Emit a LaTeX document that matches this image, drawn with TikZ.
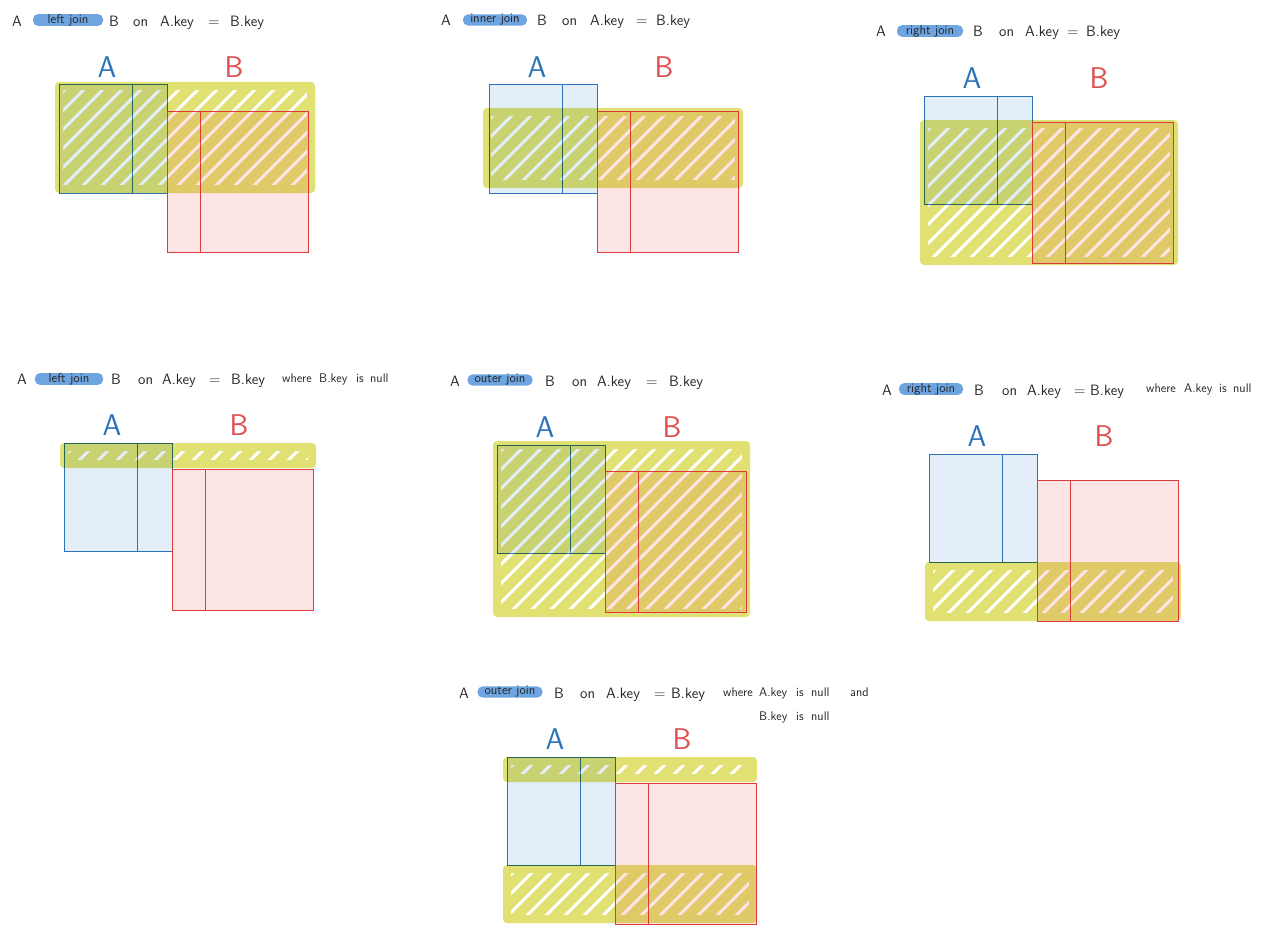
\documentclass[tikz,border=0pt]{standalone}
\usepackage{fontspec}
\definecolor{ablue}{RGB}{45,115,185}
\definecolor{afill}{RGB}{228,238,248}
\definecolor{bred}{RGB}{220,60,60}
\definecolor{bfill}{RGB}{253,229,229}
\definecolor{hyel}{RGB}{212,212,50}
\definecolor{pillblue}{RGB}{110,165,225}
\tikzset{
  ttl/.style={anchor=base west, font=\fontsize{15}{17}\sffamily, inner sep=0pt, text=black!85},
  ttls/.style={anchor=base west, font=\fontsize{12.5}{14}\sffamily, inner sep=0pt, text=black!85},
  pill/.style={fill=pillblue, rounded corners=5pt, minimum width=#1, minimum height=10pt,
    inner sep=0pt, font=\fontsize{13}{14}\sffamily, text=black!85},
  lblA/.style={font=\fontsize{30}{32}\sffamily, text=ablue},
  lblB/.style={font=\fontsize{30}{32}\sffamily, text=bred!90},
  boxA/.style={draw=ablue, fill=afill, line width=1pt},
  boxB/.style={draw=bred, fill=bfill, line width=1pt},
  boxBline/.style={draw=bred, line width=1pt, opacity=0.95},
  hatch/.style={draw=hyel, line width=10pt, line cap=round},
  bandline/.style={draw=hyel, line width=8pt, line join=round},
}
\newcommand\jtables[3]{%
  \begin{scope}[shift={(#2,#3)}]
    \node[lblA] (A#1) at (48,-18) {A};
    \node[lblB] (B#1) at (175,-18) {B};
    \draw[boxA] (0,0) rectangle (108,108);
    \draw[boxA] (73,0) -- (73,108);
    \draw[boxB] (108,26) rectangle (249,167);
    \draw[boxB] (141,26) -- (141,167);
  \end{scope}}
\newcommand\boutline[2]{%
  \begin{scope}[shift={(#1,#2)}]
    \draw[boxBline] (108,26) rectangle (249,167);
    \draw[boxBline] (141,26) -- (141,167);
  \end{scope}}
\newcommand\yband[4]{%
  \begin{scope}[blend mode=multiply]
  \begin{scope}[transparency group, opacity=0.68]
    \begin{scope}
      \clip (#1,#2) rectangle (#3,#4);
      \pgfmathsetmacro\hh{#4-#2}
      \pgfmathsetmacro\sa{#1-\hh}
      \pgfmathsetmacro\sb{\sa+19}
      \foreach \s in {\sa,\sb,...,#3} \draw[hatch] (\s,#4) -- ++(\hh,-\hh);
    \end{scope}
    \draw[bandline] (#1,#2) rectangle (#3,#4);
  \end{scope}
  \end{scope}}
\begin{document}
\begin{tikzpicture}[x=1pt, y=-1pt]
\useasboundingbox[fill=white] (0,0) rectangle (1280,934);

% ---------- panel 1: left join
\node[pill=70pt] (j1) at (68,20) {left join};
\foreach \x/\w [count=\i] in {12/A, 109/B, 133/on, 160/A.key, 208/=, 230/B.key}
  \node[ttl] (t1w\i) at (\x,27) {\w};
\jtables{1}{59}{85}
\yband{59}{86}{311}{189}
\boutline{59}{85}

% ---------- panel 2: inner join
\node[pill=64pt] (j2) at (495,20) {inner join};
\foreach \x/\w [count=\i] in {441/A, 537/B, 562/on, 590/A.key, 636/=, 656/B.key}
  \node[ttl] (t2w\i) at (\x,26) {\w};
\jtables{2}{489}{85}
\yband{487}{112}{739}{184}
\boutline{489}{85}

% ---------- panel 3: right join
\node[pill=66pt] (j3) at (930,31) {right join};
\foreach \x/\w [count=\i] in {876/A, 973/B, 999/on, 1025/A.key, 1067/=, 1086/B.key}
  \node[ttl] (t3w\i) at (\x,37) {\w};
\jtables{3}{924}{96}
\yband{924}{124}{1174}{261}
\boutline{924}{96}

% ---------- panel 4: left join where B.key is null
\node[pill=68pt] (j4) at (69,379) {left join};
\foreach \x/\w [count=\i] in {17/A, 111/B, 138/on, 162/A.key, 209/=, 231/B.key}
  \node[ttl] (t4w\i) at (\x,384) {\w};
\foreach \x/\w [count=\i] in {282/where, 319/B.key, 356/is, 370/null}
  \node[ttls] (t4v\i) at (\x,382) {\w};
\jtables{4}{64}{443}
\yband{64}{447}{312}{464}
\boutline{64}{443}

% ---------- panel 5: outer join
\node[pill=65pt] (j5) at (500,380) {outer join};
\foreach \x/\w [count=\i] in {450/A, 545/B, 572/on, 597/A.key, 646/=, 669/B.key}
  \node[ttl] (t5w\i) at (\x,386) {\w};
\jtables{5}{497}{445}
\yband{497}{445}{746}{613}
\boutline{497}{445}

% ---------- panel 6: right join where A.key is null
\node[pill=64pt] (j6) at (931,389) {right join};
\foreach \x/\w [count=\i] in {882/A, 974/B, 1002/on, 1027/A.key, 1074/=, 1090/B.key}
  \node[ttl] (t6w\i) at (\x,395) {\w};
\foreach \x/\w [count=\i] in {1146/where, 1184/A.key, 1219/is, 1233/null}
  \node[ttls] (t6v\i) at (\x,392) {\w};
\jtables{6}{929}{454}
\yband{929}{566}{1177}{617}
\boutline{929}{454}

% ---------- panel 7: outer join where A.key is null and B.key is null
\node[pill=65pt] (j7) at (510,692) {outer join};
\foreach \x/\w [count=\i] in {459/A, 554/B, 580/on, 606/A.key, 654/=, 671/B.key}
  \node[ttl] (t7w\i) at (\x,698) {\w};
\foreach \x/\w [count=\i] in {723/where, 759/A.key, 796/is, 811/null, 850/and}
  \node[ttls] (t7v\i) at (\x,696) {\w};
\foreach \x/\w [count=\i] in {759/B.key, 796/is, 811/null}
  \node[ttls] (t7u\i) at (\x,720) {\w};
\jtables{7}{507}{757}
\yband{507}{761}{753}{778}
\yband{507}{869}{753}{919}
\boutline{507}{757}
\end{tikzpicture}
\end{document}
